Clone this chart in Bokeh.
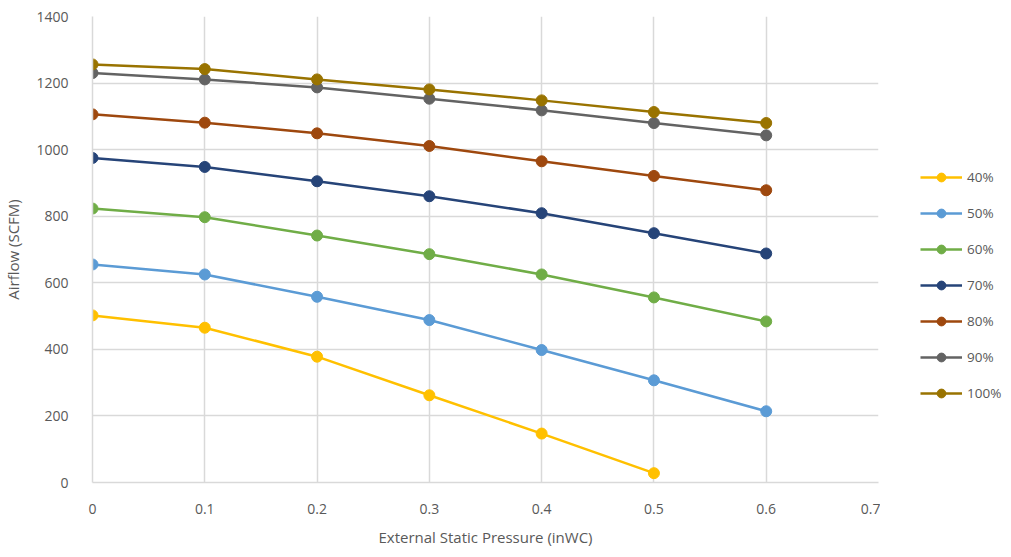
from bokeh.plotting import figure
from bokeh.layouts import row
from bokeh.models import Legend, LegendItem, FixedTicker, Range1d
from bokeh.embed import file_html
from bokeh.resources import INLINE

pressure = [0, 0.1, 0.2, 0.3, 0.4, 0.5, 0.6]
series_names = ["40%", "50%", "60%", "70%", "80%", "90%", "100%"]
s40 = [502, 465, 378, 262, 147, 28]
s50 = [655, 625, 558, 488, 398, 307, 214]
s60 = [823, 797, 742, 686, 625, 556, 484]
s70 = [975, 948, 905, 860, 809, 749, 688]
s80 = [1106, 1081, 1049, 1011, 965, 921, 878]
s90 = [1230, 1211, 1187, 1153, 1118, 1080, 1043]
s100 = [1256, 1242, 1211, 1181, 1148, 1113, 1080]
colors = ["#FFC000", "#5B9BD5", "#70AD47", "#264478", "#9E480E", "#636363", "#997300"]
x_ticks = [0, 0.1, 0.2, 0.3, 0.4, 0.5, 0.6, 0.7]
x_tick_labels = ["0", "0.1", "0.2", "0.3", "0.4", "0.5", "0.6", "0.7"]
y_ticks = [0, 200, 400, 600, 800, 1000, 1200, 1400]

H = 549
p = figure(width=880, height=H, output_backend="svg", toolbar_location=None,
           x_range=Range1d(0, 0.7), y_range=Range1d(0, 1400),
           min_border_left=92, min_border_right=2, min_border_top=16, min_border_bottom=65)
p.outline_line_color = None
p.background_fill_color = "white"

font = "Open Sans"
label_col = "#595959"
grid_col = "#D9D9D9"

p.xaxis.ticker = FixedTicker(ticks=x_ticks)
p.xaxis.major_label_overrides = {t: l for t, l in zip(x_ticks, x_tick_labels)}
p.yaxis.ticker = FixedTicker(ticks=y_ticks)
for ax in (p.xaxis, p.yaxis):
    ax.major_tick_line_color = None
    ax.minor_tick_line_color = None
    ax.axis_line_color = grid_col
    ax.axis_line_width = 1.5
    ax.major_label_text_font = font
    ax.major_label_text_font_size = "14px"
    ax.major_label_text_color = label_col
    ax.axis_label_text_font = font
    ax.axis_label_text_font_size = "15px"
    ax.axis_label_text_font_style = "normal"
    ax.axis_label_text_color = label_col
p.xaxis.major_label_standoff = 15
p.yaxis.major_label_standoff = 18
p.xaxis.axis_label = "External Static Pressure (inWC)"
p.yaxis.axis_label = "Airflow (SCFM)"
p.xaxis.axis_label_standoff = 10
p.yaxis.axis_label_standoff = 10
p.xgrid.ticker = FixedTicker(ticks=x_ticks)
p.ygrid.ticker = FixedTicker(ticks=y_ticks)
p.xgrid.grid_line_color = grid_col
p.ygrid.grid_line_color = grid_col
p.xgrid.grid_line_width = 1.5
p.ygrid.grid_line_width = 1.5

# legend lives in a narrow companion figure to the right of the plot;
# its ranges are chosen so that the series there stay out of view
lf = figure(width=123, height=H, output_backend="svg", toolbar_location=None,
            x_range=Range1d(-2, -1), y_range=Range1d(-2, -1),
            x_axis_type=None, y_axis_type=None,
            min_border_left=0, min_border_right=0, min_border_top=0, min_border_bottom=0)
lf.outline_line_color = None
lf.xgrid.visible = False
lf.ygrid.visible = False

all_series = [s40, s50, s60, s70, s80, s90, s100]
items = []
for name, ys, c in zip(series_names, all_series, colors):
    xs = pressure[:len(ys)]
    p.line(xs, ys, line_color=c, line_width=2.5)
    p.scatter(xs, ys, size=11, fill_color=c, line_color=c)
    l1 = lf.line(xs, ys, line_color=c, line_width=2.5)
    l2 = lf.scatter(xs, ys, size=11, fill_color=c, line_color=c)
    items.append(LegendItem(label=name, renderers=[l1, l2]))

legend = Legend(items=items, location=(40, 78), orientation="vertical",
                spacing=14, glyph_width=42, glyph_height=22, label_standoff=5,
                label_text_font=font, label_text_font_size="13.5px",
                label_text_color=label_col, border_line_color=None,
                background_fill_alpha=0, padding=0, margin=0)
lf.add_layout(legend, "center")

layout = row(p, lf)
open("out.html", "w").write(file_html(layout, INLINE))
